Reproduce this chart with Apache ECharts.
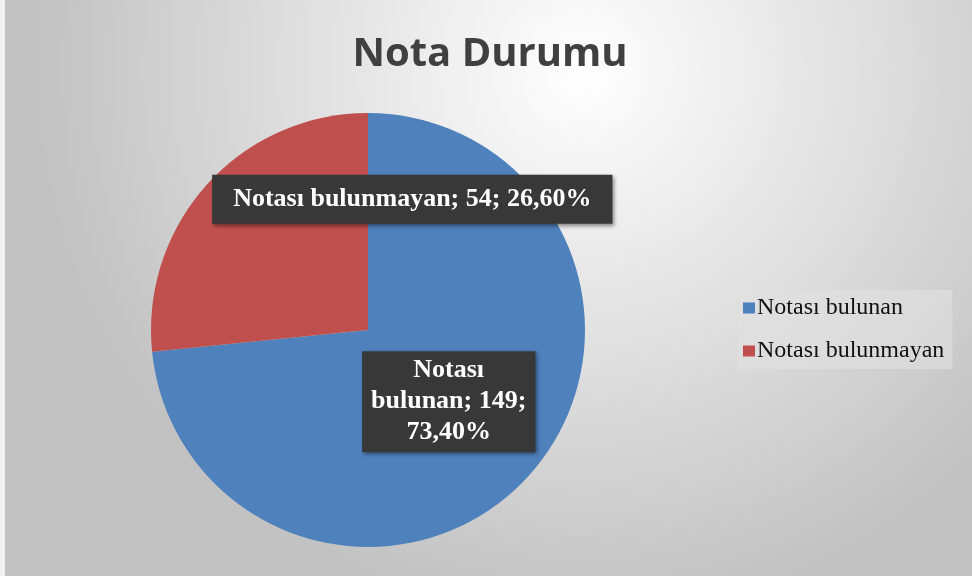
<!DOCTYPE html>
<html>
<head>
<meta charset="utf-8">
<script src="https://cdn.jsdelivr.net/npm/echarts@6/dist/echarts.min.js"></script>
<style>
  html, body { margin: 0; padding: 0; }
  #chart { width: 972px; height: 576px; }
</style>
</head>
<body>
<div id="chart"></div>
<script>
// veriler
const categories = ['Notası bulunan', 'Notası bulunmayan']
const values = [149, 54]
const colors = ['#4f81bd', '#c0504d']

const total = values.reduce((a, b) => a + b, 0)

function pct(v) {
  return (v / total * 100).toFixed(2).replace('.', ',') + '%'
}

const chart = echarts.init(document.getElementById('chart'))

const labelBox = {
  color: '#fff',
  fontFamily: 'Liberation Serif',
  fontWeight: 'bold',
  fontSize: 26,
  lineHeight: 31,
  backgroundColor: '#383838',
  padding: [9, 21],
  shadowColor: 'rgba(0,0,0,0.45)',
  shadowBlur: 4,
  shadowOffsetX: 2,
  shadowOffsetY: 2
}

chart.setOption({
  backgroundColor: {
    type: 'radial',
    x: 0.6,
    y: 0.12,
    r: 0.95,
    colorStops: [
      { offset: 0, color: '#ffffff' },
      { offset: 1, color: '#c2c2c2' }
    ]
  },
  graphic: [
    {
      type: 'rect',
      left: 0,
      top: 0,
      shape: { width: 5, height: 576 },
      style: { fill: '#f2f2f2' },
      silent: true
    }
  ],
  title: {
    text: 'Nota Durumu',
    left: 485,
    top: 30,
    textAlign: 'center',
    textStyle: {
      fontFamily: 'Open Sans',
      fontWeight: 'bold',
      fontSize: 40,
      color: '#404040'
    }
  },
  legend: {
    orient: 'vertical',
    left: 738,
    top: 290,
    itemWidth: 12,
    itemHeight: 11,
    itemGap: 19,
    icon: 'rect',
    padding: [6, 8, 6, 5],
    backgroundColor: 'rgba(225,225,225,0.6)',
    textStyle: {
      fontFamily: 'Liberation Serif',
      fontSize: 24,
      color: '#111',
      padding: [0, 0, 0, -3]
    },
    data: categories
  },
  series: [
    {
      type: 'pie',
      center: [368, 330],
      radius: 217,
      startAngle: 90,
      clockwise: true,
      silent: true,
      label: {
        show: true,
        position: 'inside',
        formatter: p => p.name + '; ' + p.value + '; ' + pct(p.value),
        ...labelBox
      },
      labelLine: { show: false },
      data: categories.map((name, i) => {
        const item = { name: name, value: values[i], itemStyle: { color: colors[i] } }
        if (i === 0) {
          item.label = {
            align: 'center',
            padding: [4, 9],
            offset: [-2, -3],
            formatter: p => p.name.replace(' ', '\n') + '; ' + p.value + ';\n' + pct(p.value)
          }
        } else {
          item.label = { offset: [127, -56] }
        }
        return item
      })
    }
  ]
})
</script>
</body>
</html>
